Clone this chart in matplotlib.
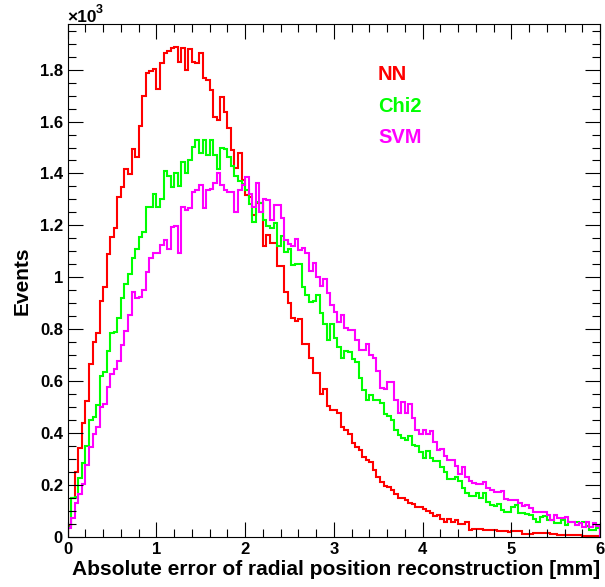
import numpy as np
import matplotlib.pyplot as plt
from matplotlib.ticker import MultipleLocator, FuncFormatter

plt.rcParams["font.family"] = "Liberation Sans"
plt.rcParams["font.weight"] = "bold"
plt.rcParams["axes.labelweight"] = "bold"

# 150 bins of 0.04 mm between 0 and 6 mm
edges = np.linspace(0, 6, 151)

nn = np.array([
    45, 150, 248, 340, 440, 523, 665, 752, 786, 909,
    962, 1090, 1157, 1190, 1310, 1349, 1416, 1398, 1494, 1465,
    1584, 1699, 1786, 1796, 1802, 1726, 1827, 1863, 1872, 1885,
    1889, 1831, 1883, 1799, 1879, 1831, 1825, 1863, 1767, 1761,
    1722, 1619, 1606, 1694, 1638, 1574, 1491, 1420, 1478, 1375,
    1317, 1311, 1240, 1285, 1285, 1121, 1163, 1131, 1131, 1043,
    1043, 945, 902, 844, 832, 838, 742, 742, 688, 632,
    632, 550, 568, 504, 488, 488, 475, 424, 410, 396,
    362, 345, 334, 308, 295, 289, 257, 231, 212, 195,
    190, 180, 165, 150, 150, 140, 129, 125, 116, 116,
    105, 100, 90, 80, 85, 70, 57, 70, 55, 65,
    50, 49, 55, 27, 30, 30, 30, 27, 27, 25,
    25, 22, 22, 22, 20, 22, 22, 22, 11, 11,
    11, 14, 14, 14, 16, 16, 11, 11, 7, 7,
    7, 7, 7, 7, 7, 3, 3, 3, 3, 3])

chi2 = np.array([
    39, 150, 154, 225, 283, 350, 450, 463, 508, 620,
    636, 716, 786, 790, 842, 919, 974, 1011, 1073, 1108,
    1154, 1176, 1270, 1270, 1321, 1270, 1300, 1411, 1390, 1347,
    1400, 1350, 1446, 1400, 1452, 1501, 1530, 1480, 1530, 1470,
    1530, 1470, 1416, 1497, 1493, 1465, 1430, 1390, 1370, 1360,
    1336, 1284, 1214, 1291, 1285, 1221, 1198, 1190, 1208, 1120,
    1159, 1099, 1107, 1047, 1050, 1050, 964, 932, 906, 910,
    930, 864, 820, 758, 820, 765, 730, 688, 715, 710,
    685, 672, 611, 566, 527, 546, 527, 527, 517, 471,
    465, 450, 411, 393, 380, 373, 390, 354, 350, 328,
    302, 330, 305, 293, 293, 270, 251, 221, 224, 230,
    215, 186, 167, 155, 155, 167, 150, 170, 134, 121,
    118, 125, 103, 97, 97, 115, 121, 90, 90, 88,
    85, 70, 58, 77, 80, 66, 65, 52, 52, 66,
    45, 58, 58, 58, 52, 58, 40, 26, 26, 32])

svm = np.array([
    35, 71, 129, 165, 203, 276, 345, 396, 422, 499,
    510, 578, 627, 645, 677, 739, 793, 855, 944, 919,
    925, 950, 1020, 1073, 1095, 1095, 1124, 1144, 1107, 1195,
    1198, 1095, 1272, 1259, 1266, 1330, 1336, 1356, 1266, 1336,
    1340, 1362, 1400, 1356, 1336, 1330, 1330, 1253, 1336, 1356,
    1388, 1320, 1270, 1365, 1250, 1300, 1298, 1221, 1279, 1279,
    1227, 1144, 1128, 1120, 1146, 1105, 1111, 1092, 1025, 1053,
    1002, 966, 992, 938, 893, 867, 829, 854, 803, 797,
    797, 760, 720, 720, 742, 700, 688, 640, 572, 570,
    597, 597, 527, 478, 520, 478, 510, 456, 411, 396,
    411, 396, 408, 366, 334, 338, 312, 296, 295, 272,
    241, 269, 231, 215, 208, 203, 203, 212, 186, 180,
    174, 174, 177, 144, 141, 141, 141, 128, 118, 124,
    109, 97, 97, 97, 97, 84, 64, 84, 71, 71,
    77, 58, 58, 45, 51, 38, 58, 38, 54, 40])

labels = ["NN", "Chi2", "SVM"]
colors = ["#ff0000", "#00ff00", "#ff00ff"]

fig = plt.figure(figsize=(6.05, 5.87), dpi=100)
ax = fig.add_axes([67.7/605, 1 - 536.7/587, (600 - 67.7)/605, (536.7 - 24)/587])

for h, c in zip([nn, chi2, svm], colors):
    ax.stairs(h, edges, color=c, lw=1.5)

ax.set_xlim(0, 6)
ax.set_ylim(0, 1976)

ax.xaxis.set_major_locator(MultipleLocator(1))
ax.xaxis.set_minor_locator(MultipleLocator(0.2))
ax.yaxis.set_major_locator(MultipleLocator(200))
ax.yaxis.set_minor_locator(MultipleLocator(50))
ax.yaxis.set_major_formatter(FuncFormatter(lambda v, p: f"{v/1000:g}"))

ax.tick_params(which="both", direction="in", top=True, right=True, width=0.8, labelsize=12)
ax.tick_params(which="major", length=11)
ax.tick_params(which="minor", length=5.5)
ax.tick_params(axis="y", pad=3.4)
ax.tick_params(axis="x", pad=3.5)
for s in ax.spines.values():
    s.set_linewidth(0.8)

ax.set_xlabel("Absolute error of radial position reconstruction [mm]", fontsize=15, ha="right")
ax.xaxis.set_label_coords(1.0, -0.045)
ax.set_ylabel("Events", fontsize=15)
ax.yaxis.set_label_coords(-0.068, 0.499)

# axis multiplier in the top left corner
fig.text(67/605, 1 - 22/587, "×10", fontsize=12.5, va="baseline", ha="left")
fig.text(95.5/605, 1 - 13/587, "3", fontsize=9, va="baseline", ha="left")

for i, (t, c) in enumerate(zip(labels, colors)):
    fig.text(378/605, 1 - (80 + 31.7*i)/587, t, color=c, fontsize=14.5, va="baseline", ha="left")

plt.savefig("out.png")
